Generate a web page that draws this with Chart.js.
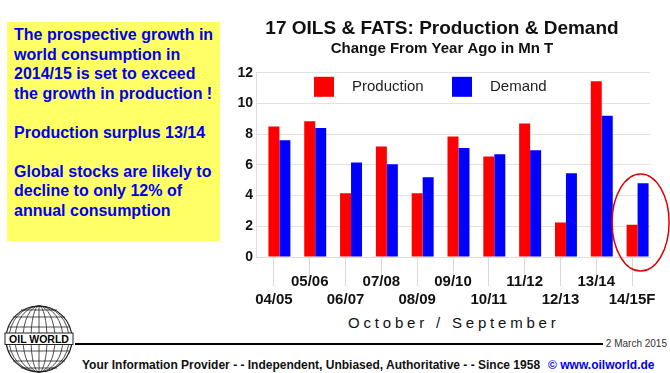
<!DOCTYPE html>
<html>
<head>
<meta charset="utf-8">
<script src="https://cdn.jsdelivr.net/npm/chart.js@4.4.0/dist/chart.umd.min.js"></script>
<style>
  body { margin: 0; width: 670px; height: 373px; background: #fff; position: relative; overflow: hidden;
         font-family: "Liberation Sans", Arial, sans-serif; }
  #note { position: absolute; left: 7px; top: 22px; width: 206px; height: 216px; padding: 3px 0 0 7px;
          background: #ffff66; color: #0000f0; font-weight: bold; font-size: 16px; line-height: 19.5px; }
  #note p { margin: 0 0 19.5px 0; }
  #plot { position: absolute; left: 222px; top: 0; }
  #xTitle { position: absolute; left: 300px; top: 315px; width: 300px; text-align: center; font-size: 15px;
            line-height: 15px; letter-spacing: 3.8px; padding-left: 3.8px; color: #111; }
  #logo { position: absolute; left: 0; top: 300px; }
  #rule { position: absolute; left: 75px; top: 343px; width: 528px; height: 2px; background: #000; }
  #date { position: absolute; right: 3px; top: 338px; font-size: 10px; line-height: 12px; color: #333; }
  #footer { position: absolute; left: 82px; top: 358px; font-size: 12px; line-height: 14px; font-weight: bold;
            color: #111; white-space: nowrap; }
  #footer span { color: #0000f0; margin-left: 8px; }
</style>
</head>
<body>
<div id="note">
  <p>The prospective growth in world consumption in 2014/15 is set to exceed the growth in production !</p>
  <p>Production surplus 13/14</p>
  <p>Global stocks are likely to decline to only 12% of annual consumption</p>
</div>
<div id="plot"><canvas id="chart" width="448" height="312"></canvas></div>
<div id="xTitle">October / September</div>
<svg id="logo" width="80" height="73" viewBox="0 0 80 73">
  <g fill="none" stroke="#222" stroke-width="0.8">
    <circle cx="39" cy="39" r="33" stroke-width="1.2"/>
    <line x1="39" y1="6" x2="39" y2="72"/>
    <ellipse cx="39" cy="39" rx="8" ry="33"/>
    <ellipse cx="39" cy="39" rx="16" ry="33"/>
    <ellipse cx="39" cy="39" rx="24" ry="33"/>
    <ellipse cx="39" cy="39" rx="30" ry="33"/>
    <line x1="8.5" y1="27" x2="69.5" y2="27"/>
    <line x1="13" y1="17" x2="65" y2="17"/>
    <line x1="21" y1="10" x2="57" y2="10"/>
    <line x1="8.5" y1="51" x2="69.5" y2="51"/>
    <line x1="13" y1="61" x2="65" y2="61"/>
    <line x1="21" y1="68" x2="57" y2="68"/>
  </g>
  <rect x="5" y="33" width="68" height="11.5" fill="#fff" stroke="#222" stroke-width="1"/>
  <text x="39" y="42.8" text-anchor="middle" font-family="Liberation Sans, Arial" font-weight="bold" font-size="10.5" fill="#000">OIL WORLD</text>
</svg>
<div id="rule"></div>
<div id="date">2 March 2015</div>
<div id="footer">Your Information Provider - - Independent, Unbiased, Authoritative - - Since 1958<span>© www.oilworld.de</span></div>
<script>
const seasons = ['04/05', '05/06', '06/07', '07/08', '08/09', '09/10', '10/11', '11/12', '12/13', '13/14', '14/15F'];
const production = [8.5, 8.85, 4.15, 7.2, 4.15, 7.85, 6.55, 8.7, 2.25, 11.45, 2.1];
const demand = [7.6, 8.4, 6.15, 6.05, 5.2, 7.1, 6.7, 6.95, 5.45, 9.2, 4.8];
const yMin = 0, yMax = 12, yStep = 2;

const FONT = 'Liberation Sans, Arial, sans-serif';

// legend drawn inside the plot area, like the original
const insideLegend = {
  id: 'insideLegend',
  afterDraw(chart) {
    const { ctx, chartArea } = chart;
    const slots = [58, 196];
    ctx.save();
    ctx.font = '15px ' + FONT;
    ctx.textBaseline = 'middle';
    [1, 2].forEach((di, k) => {
      const ds = chart.data.datasets[di];
      const x = chartArea.left + slots[k];
      const y = chartArea.top + 4;
      ctx.fillStyle = ds.backgroundColor;
      ctx.fillRect(x, y, 20, 20);
      ctx.fillStyle = '#222';
      ctx.fillText(ds.label, x + 38, y + 10.5);
    });
    ctx.restore();
  }
};

// red ring round the forecast season
const forecastRing = {
  id: 'forecastRing',
  afterDraw(chart) {
    const last = seasons.length - 1;
    const a = chart.getDatasetMeta(1).data[last];
    const b = chart.getDatasetMeta(2).data[last];
    const cx = (a.x + b.x) / 2 + 3;
    const cy = chart.scales.y.getPixelForValue(2.25);
    const ctx = chart.ctx;
    ctx.save();
    ctx.strokeStyle = '#e00000';
    ctx.lineWidth = 1.5;
    ctx.beginPath();
    ctx.ellipse(cx, cy, 28.5, 48.5, 0, 0, Math.PI * 2);
    ctx.stroke();
    ctx.restore();
  }
};

new Chart(document.getElementById('chart'), {
  type: 'bar',
  data: {
    labels: seasons,
    datasets: [
      { label: '', data: seasons.map(() => null), backgroundColor: 'rgba(0,0,0,0)' },
      { label: 'Production', data: production, backgroundColor: '#ff0000' },
      { label: 'Demand', data: demand, backgroundColor: '#0000ff' }
    ]
  },
  options: {
    responsive: false,
    animation: false,
    layout: { padding: { left: 12, right: 20, top: 0, bottom: 7 } },
    datasets: { bar: { barPercentage: 1, categoryPercentage: 0.92 } },
    plugins: {
      legend: { display: false },
      tooltip: { enabled: false },
      title: {
        display: true,
        text: '17 OILS & FATS: Production & Demand',
        color: '#111',
        font: { family: FONT, size: 19, weight: 'bold' },
        padding: { top: 17, bottom: 0 }
      },
      subtitle: {
        display: true,
        text: 'Change From Year Ago in Mn T',
        color: '#111',
        font: { family: FONT, size: 15, weight: 'bold' },
        padding: { top: 0, bottom: 15 }
      }
    },
    scales: {
      x: {
        grid: { offset: false, drawOnChartArea: false, tickLength: 29, color: '#d8d8d8' },
        border: { color: '#dddddd' },
        ticks: {
          autoSkip: false,
          maxRotation: 0,
          padding: -13,
          color: '#111',
          font: { family: FONT, size: 15, weight: 'bold', lineHeight: '18px' },
          callback: (v, i) => (i % 2 ? [seasons[i], ''] : ['', seasons[i]])
        },
        afterFit(scale) { scale.height = 48; }
      },
      y: {
        min: yMin,
        max: yMax,
        grid: { color: '#e2e2e2', drawTicks: false },
        border: { color: '#dddddd' },
        ticks: { stepSize: yStep, padding: 3, color: '#111', font: { family: FONT, size: 14, weight: 'bold' } },
        afterFit(scale) { scale.width = 22; }
      }
    }
  },
  plugins: [insideLegend, forecastRing]
});
</script>
</body>
</html>
